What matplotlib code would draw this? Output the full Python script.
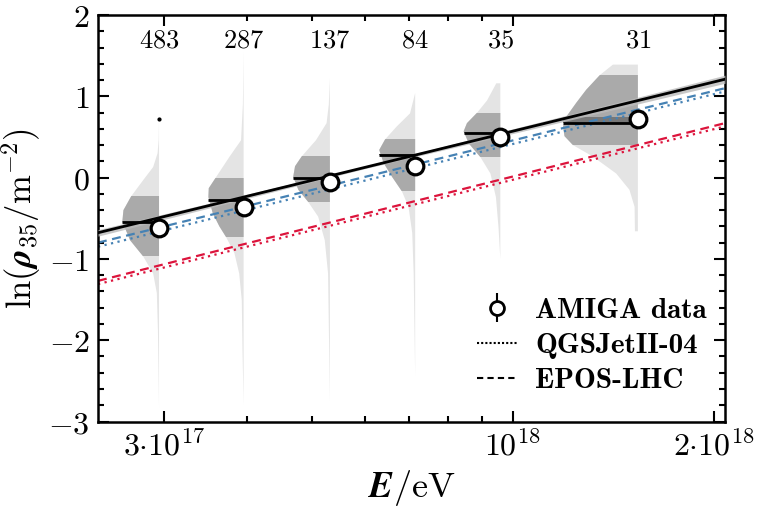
import numpy as np
import matplotlib
matplotlib.use('Agg')
import matplotlib.pyplot as plt
from matplotlib.patches import Rectangle
from matplotlib.lines import Line2D
from matplotlib.ticker import FixedLocator, FixedFormatter, NullFormatter, MultipleLocator, FuncFormatter

plt.rcParams['mathtext.fontset'] = 'cm'

# energy bins (position of each violin / data point)
bin_E = [2.95e17, 3.95e17, 5.32e17, 7.14e17, 9.58e17, 1.54e18]
n_events = [483, 287, 137, 84, 35, 31]
mean_ln = [-0.617, -0.365, -0.049, 0.148, 0.499, 0.725]
mean_err = [0.03, 0.04, 0.05, 0.06, 0.08, 0.09]
median_ln = [-0.551, -0.279, -0.008, 0.276, 0.552, 0.672]
median_hi = [-0.54, -0.27, 0.0, 0.285, 0.565, 0.75]
# inner quantile range (dark band)
q_lo = [-0.97, -0.73, -0.30, -0.17, 0.25, 0.40]
q_hi = [-0.23, 0.00, 0.26, 0.47, 0.80, 1.26]

# violin profiles: ln(rho35) levels and relative density
v1_y = [0.72, 0.46, 0.30, 0.13, -0.03, -0.23, -0.40, -0.54, -0.77, -0.97, -1.18, -1.42, -1.88, -2.83]
v1_w = [0, 0.01, 0.04, 0.16, 0.43, 0.76, 0.97, 1.00, 0.79, 0.43, 0.16, 0.06, 0.03, 0]
v2_y = [1.55, 0.90, 0.46, 0.26, 0.0, -0.13, -0.24, -0.44, -0.60, -0.73, -0.93, -1.18, -1.51, -2.13, -2.80]
v2_w = [0, 0.02, 0.07, 0.38, 0.76, 0.95, 0.96, 0.84, 0.66, 0.48, 0.25, 0.12, 0.05, 0.03, 0]
v3_y = [1.22, 0.90, 0.67, 0.46, 0.26, 0.14, 0.01, -0.15, -0.30, -0.48, -0.77, -1.18, -1.80, -2.75]
v3_w = [0, 0.03, 0.09, 0.38, 0.77, 0.95, 1.00, 0.86, 0.59, 0.32, 0.14, 0.05, 0.03, 0]
v4_y = [1.04, 0.79, 0.63, 0.47, 0.34, 0.18, 0.01, -0.17, -0.36, -0.68, -1.18, -2.44]
v4_w = [0, 0.14, 0.50, 0.82, 0.98, 0.86, 0.63, 0.36, 0.18, 0.08, 0.04, 0]
v5_y = [1.16, 1.16, 0.95, 0.80, 0.67, 0.57, 0.42, 0.25, 0.05, -0.24, -0.61, -1.00]
v5_w = [0, 0.11, 0.36, 0.63, 0.91, 1.00, 0.86, 0.54, 0.27, 0.12, 0.05, 0]
v6_y = [1.39, 1.39, 1.26, 1.08, 0.92, 0.75, 0.63, 0.51, 0.40, 0.26, 0.05, -0.15, -0.36, -0.66, -0.66]
v6_w = [0, 0.68, 1.04, 1.41, 1.68, 1.95, 2.04, 2.00, 1.77, 1.23, 0.59, 0.23, 0.09, 0.08, 0]
violin_y = [v1_y, v2_y, v3_y, v4_y, v5_y, v6_y]
violin_w = [v1_w, v2_w, v3_w, v4_w, v5_w, v6_w]
outlier_E = [2.95e17]
outlier_ln = [0.72]

# fit to data with its band
fit_E = [2.39e17, 6.0e17, 2.08e18]
fit_ln = [-0.678, 0.125, 1.21]
fit_lo = [-0.72, 0.11, 1.16]
fit_hi = [-0.64, 0.14, 1.26]

# model predictions (proton: blue, iron: red)
model_E = [2.39e17, 2.08e18]
epos_p = [-0.80, 1.10]
qgs_p = [-0.85, 1.06]
epos_fe = [-1.27, 0.67]
qgs_fe = [-1.31, 0.63]

VW = 0.055  # violin width in decades per unit density

fig = plt.figure(figsize=(7.57, 5.07), dpi=100)
ax = fig.add_axes([0.1295, 0.1686, 0.8282, 0.8018])
ax.set_xscale('log')

for i in range(len(bin_E)):
    e = bin_E[i]
    ys = np.array(violin_y[i])
    ws = np.array(violin_w[i])
    left = e * 10 ** (-ws * VW)
    xs = np.concatenate([left, [e, e]])
    yy = np.concatenate([ys, [ys[-1], ys[0]]])
    ax.fill(xs, yy, color='#e4e4e4', lw=0, zorder=1)
    dark = ax.fill(xs, yy, color='#aaaaaa', lw=0, zorder=1.1)[0]
    clip = Rectangle((e / 10, q_lo[i]), 2 * e, q_hi[i] - q_lo[i], transform=ax.transData)
    dark.set_clip_path(clip)
    xl = e * 10 ** (-ws.max() * VW)
    ax.fill_between([xl, e], median_ln[i], median_hi[i], color='#777777', lw=0, zorder=1.2)
    ax.hlines(median_ln[i], xl, e, color='k', lw=2, zorder=4)
    ax.text(e, 1.69, r'$\mathbf{%d}$' % n_events[i], ha='center', va='center', fontsize=19)

ax.plot(outlier_E, outlier_ln, 'o', color='k', ms=2, zorder=2)

ax.plot(model_E, epos_p, color='#4682b4', ls=(0, (4, 2.5)), lw=1.6, zorder=2)
ax.plot(model_E, qgs_p, color='#4682b4', ls=(0, (1, 2)), lw=1.6, zorder=2)
ax.plot(model_E, epos_fe, color='#dc143c', ls=(0, (4, 2.5)), lw=1.6, zorder=2)
ax.plot(model_E, qgs_fe, color='#dc143c', ls=(0, (1, 2)), lw=1.6, zorder=2)

ax.fill_between(fit_E, fit_lo, fit_hi, color='#bbbbbb', alpha=0.8, lw=0, zorder=3)
ax.plot([fit_E[0], fit_E[-1]], [fit_ln[0], fit_ln[-1]], color='k', lw=2, zorder=3.5)

ax.errorbar(bin_E, mean_ln, yerr=mean_err, fmt='o', mfc='white', mec='k', mew=2.3,
            ms=12, ecolor='k', elinewidth=1.5, capsize=0, zorder=6)

ax.set_xlim(2.39e17, 2.08e18)
ax.set_ylim(-3, 2)

ax.xaxis.set_major_locator(FixedLocator([3e17, 1e18, 2e18]))
ax.xaxis.set_major_formatter(FixedFormatter([r'$\mathbf{3{\cdot}10^{17}}$', r'$\mathbf{10^{18}}$',
                                             r'$\mathbf{2{\cdot}10^{18}}$']))
ax.xaxis.set_minor_locator(FixedLocator([4e17, 5e17, 6e17, 7e17, 8e17, 9e17]))
ax.xaxis.set_minor_formatter(NullFormatter())
ax.yaxis.set_major_locator(MultipleLocator(1))
ax.yaxis.set_minor_locator(MultipleLocator(0.2))
ax.yaxis.set_major_formatter(FuncFormatter(lambda v, p: r'$\mathbf{%d}$' % round(v)))
ax.tick_params(which='both', direction='in', top=True, right=True, width=1.5, labelsize=23)
ax.tick_params(which='major', length=8, pad=6)
ax.tick_params(which='minor', length=4.5)
for s in ax.spines.values():
    s.set_linewidth(1.8)

ax.set_xlabel(r'$\boldsymbol{E}/\mathrm{eV}$', fontsize=26)
ax.set_ylabel(r'$\ln(\boldsymbol{\rho}_{35}/\mathrm{m}^{-2})$', fontsize=25)
ax.xaxis.set_label_coords(0.5, -0.115)
ax.yaxis.set_label_coords(-0.088, 0.5)

handles = [
    ax.errorbar([], [], yerr=[], fmt='o', mfc='white', mec='k', mew=2, ms=10, ecolor='k',
                elinewidth=1.5, capsize=0),
    Line2D([], [], color='k', ls=(0, (1, 1)), lw=1.5),
    Line2D([], [], color='k', ls=(0, (3, 2)), lw=1.5),
]
labels = ['AMIGA data', 'QGSJetII-04', 'EPOS-LHC']
ax.legend(handles, labels, loc='lower right', bbox_to_anchor=(1.013, 0.003), frameon=False,
          prop={'family': 'cmb10', 'size': 21}, handlelength=1.4, handletextpad=0.6,
          labelspacing=0.3)

fig.savefig('out.png', dpi=100)
